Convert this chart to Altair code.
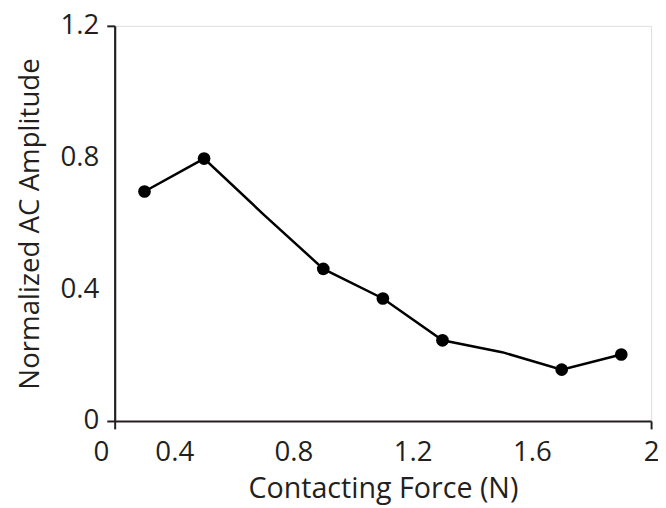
import altair as alt
import pandas as pd

# Values
force = [0.3, 0.5, 0.7, 0.9, 1.1, 1.3, 1.5, 1.7, 1.9]
amplitude = [0.697, 0.797, 0.627, 0.462, 0.372, 0.245, 0.209, 0.156, 0.202]
marked = [True, True, False, True, True, True, False, True, True]

x_domain = [0.2, 2.0]
x_ticks = [0.2, 0.4, 0.8, 1.2, 1.6, 2.0]
y_ticks = [0, 0.4, 0.8, 1.2]

df = pd.DataFrame({"force": force, "amp": amplitude, "marked": marked})

FONT = "Open Sans"
INK = "#231f20"

x_enc = alt.X(
    "force:Q",
    scale=alt.Scale(domain=x_domain, nice=False, zero=False),
    axis=alt.Axis(
        values=x_ticks,
        title="Contacting Force (N)",
        ticks=True,
        tickSize=8,
        tickWidth=2,
        tickColor={"condition": {"test": "datum.value < 0.3 || datum.value > 1.9", "value": INK}, "value": "transparent"},
        grid=False,
        labelPadding=10,
        labelFontSize=28,
        titleFontSize=29,
        titlePadding=8,
        labelFlush=False,
        labelOverlap=False,
        labelExpr="datum.value < 0.3 ? '0' : datum.label",
        labelOffset={"condition": {"test": "datum.value < 0.3", "value": -14}, "value": 0},
        domainColor=INK,
        domainWidth=2.2,
        labelColor=INK,
        titleColor=INK,
        labelFont=FONT,
        titleFont=FONT,
        titleFontWeight="normal",
        format="~g",
    ),
)
y_enc = alt.Y(
    "amp:Q",
    scale=alt.Scale(domain=[0, 1.2], nice=False, zero=False),
    axis=alt.Axis(
        values=y_ticks,
        title="Normalized AC Amplitude",
        ticks=True,
        tickSize=8,
        tickWidth=2,
        tickColor={"condition": {"test": "datum.value < 0.1 || datum.value > 1.1", "value": INK}, "value": "transparent"},
        grid=False,
        labelPadding=8,
        labelFontSize=28,
        titleFontSize=28,
        titlePadding=16,
        labelFlush=False,
        labelOverlap=False,
        domainColor=INK,
        domainWidth=2.2,
        labelColor=INK,
        titleColor=INK,
        labelFont=FONT,
        titleFont=FONT,
        titleFontWeight="normal",
        format="~g",
    ),
)

base = alt.Chart(df)
line = base.mark_line(color="black", strokeWidth=2.5).encode(x=x_enc, y=y_enc)
pts = (
    base.transform_filter(alt.datum.marked)
    .mark_circle(color="black", opacity=1, size=165)
    .encode(x="force:Q", y="amp:Q")
)

chart = (
    alt.layer(line, pts)
    .properties(
        width=543,
        height=400,
        autosize=alt.AutoSizeParams(type="none"),
        padding={"left": 108, "top": 15, "right": 7, "bottom": 85},
    )
    .configure_view(stroke="black", strokeWidth=2.2)
    .configure(background="white")
)

chart.save("out.html", embed_options={"renderer": "svg", "actions": False})
